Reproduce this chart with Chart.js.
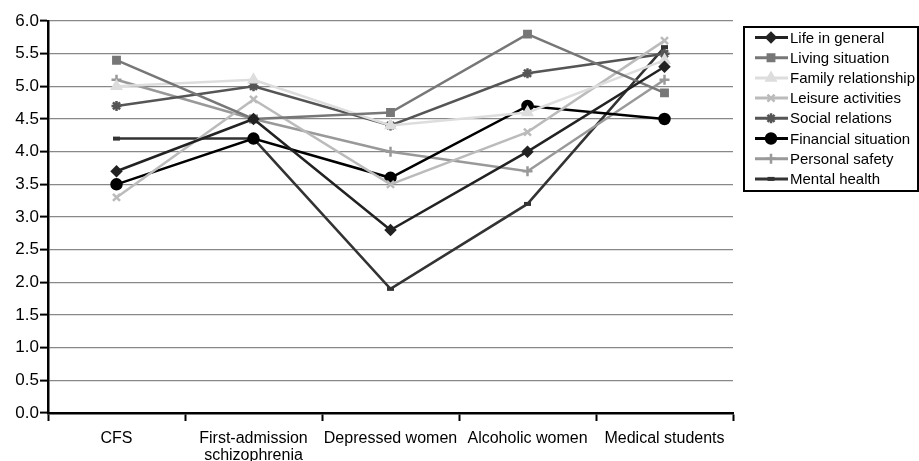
<!DOCTYPE html>
<html>
<head>
<meta charset="utf-8">
<script src="https://cdn.jsdelivr.net/npm/chart.js@4"></script>
<style>
    html, body { margin: 0; padding: 0; background: #fff; }
    #wrap { width: 919px; height: 461px; }
</style>
</head>
<body>
<div id="wrap"><canvas id="chartCalidad"></canvas></div>
<script>
const categorias = ["CFS", ["First-admission", "schizophrenia"], "Depressed women", "Alcoholic women", "Medical students"];
const series = ["Life in general", "Living situation", "Family relationship", "Leisure activities",
    "Social relations", "Financial situation", "Personal safety", "Mental health"];

const lifeInGeneral   = [3.7, 4.5, 2.8, 4.0, 5.3];
const livingSituation = [5.4, 4.5, 4.6, 5.8, 4.9];
const familyRelation  = [5.0, 5.1, 4.4, 4.6, 5.4];
const leisure         = [3.3, 4.8, 3.5, 4.3, 5.7];
const socialRelations = [4.7, 5.0, 4.4, 5.2, 5.5];
const financial       = [3.5, 4.2, 3.6, 4.7, 4.5];
const personalSafety  = [5.1, 4.5, 4.0, 3.7, 5.1];
const mentalHealth    = [4.2, 4.2, 1.9, 3.2, 5.6];

const valores = [lifeInGeneral, livingSituation, familyRelation, leisure,
    socialRelations, financial, personalSafety, mentalHealth];
const colores = ['#222222', '#777777', '#dddddd', '#bbbbbb', '#555555', '#000000', '#999999', '#333333'];
const marcas  = ['rectRot', 'rect', 'triangle', 'crossRot', 'star', 'circle', 'cross', 'line'];
const radios  = [4.5, 4.5, 5, 5, 5, 5, 5, 3.5];

const fuente = '"Liberation Sans", Arial, sans-serif';

// Leyenda propia: línea + marca + texto dentro de un recuadro
const leyendaPlugin = {
    id: 'leyendaCaja',
    afterDraw(chart) {
        const c = chart.ctx;
        c.save();
        c.strokeStyle = '#000';
        c.lineWidth = 2;
        c.strokeRect(744, 27, 174, 164);
        c.font = '15px ' + fuente;
        c.textBaseline = 'middle';
        chart.data.datasets.forEach((ds, i) => {
            const y = 37.5 + i * 20.2;
            c.strokeStyle = ds.borderColor;
            c.fillStyle = ds.borderColor;
            c.lineWidth = 3;
            c.beginPath();
            c.moveTo(755, y);
            c.lineTo(788, y);
            c.stroke();
            c.lineWidth = ds.pointBorderWidth;
            Chart.helpers.drawPoint(c, {
                pointStyle: ds.pointStyle,
                radius: ds.pointRadius,
                borderWidth: ds.pointBorderWidth
            }, 771, y);
            c.fillStyle = '#000';
            c.fillText(series[i], 790, y + 1);
        });
        c.restore();
    }
};

function dibujarGrafico() {
    const ctx = document.getElementById('chartCalidad');

    const datasets = valores.map((vals, i) => ({
        label: series[i],
        data: vals,
        borderColor: colores[i],
        backgroundColor: colores[i],
        pointBackgroundColor: colores[i],
        pointBorderColor: colores[i],
        borderWidth: 2.5,
        pointStyle: marcas[i],
        pointRadius: radios[i],
        pointBorderWidth: (marcas[i] === 'line') ? 4 : 2.5,
        tension: 0
    }));

    new Chart(ctx, {
        type: 'line',
        data: { labels: categorias, datasets: datasets },
        options: {
            responsive: true,
            maintainAspectRatio: false,
            animation: false,
            layout: { padding: { left: 0, right: 186, top: 21, bottom: 0 } },
            plugins: {
                legend: { display: false },
                tooltip: { enabled: false }
            },
            scales: {
                x: {
                    offset: true,
                    grid: {
                        offset: true,
                        drawOnChartArea: false,
                        drawTicks: true,
                        tickLength: 8,
                        tickColor: '#000',
                        tickWidth: 2
                    },
                    border: { color: '#000', width: 2.5 },
                    ticks: {
                        color: '#000',
                        padding: 9,
                        maxRotation: 0,
                        autoSkip: false,
                        font: { family: fuente, size: 16, lineHeight: 1.05 }
                    },
                    afterFit: scale => { scale.height = 48; }
                },
                y: {
                    min: 0,
                    max: 6,
                    grid: {
                        color: '#888888',
                        lineWidth: 1.2,
                        drawTicks: true,
                        tickLength: 8,
                        tickColor: '#000',
                        tickWidth: 2
                    },
                    border: { color: '#000', width: 2.5 },
                    ticks: {
                        stepSize: 0.5,
                        color: '#000',
                        padding: 1,
                        font: { family: fuente, size: 17 },
                        callback: v => v.toFixed(1)
                    },
                    afterFit: scale => { scale.width = 48; }
                }
            }
        },
        plugins: [leyendaPlugin]
    });
}

document.addEventListener("DOMContentLoaded", dibujarGrafico);
</script>
</body>
</html>
